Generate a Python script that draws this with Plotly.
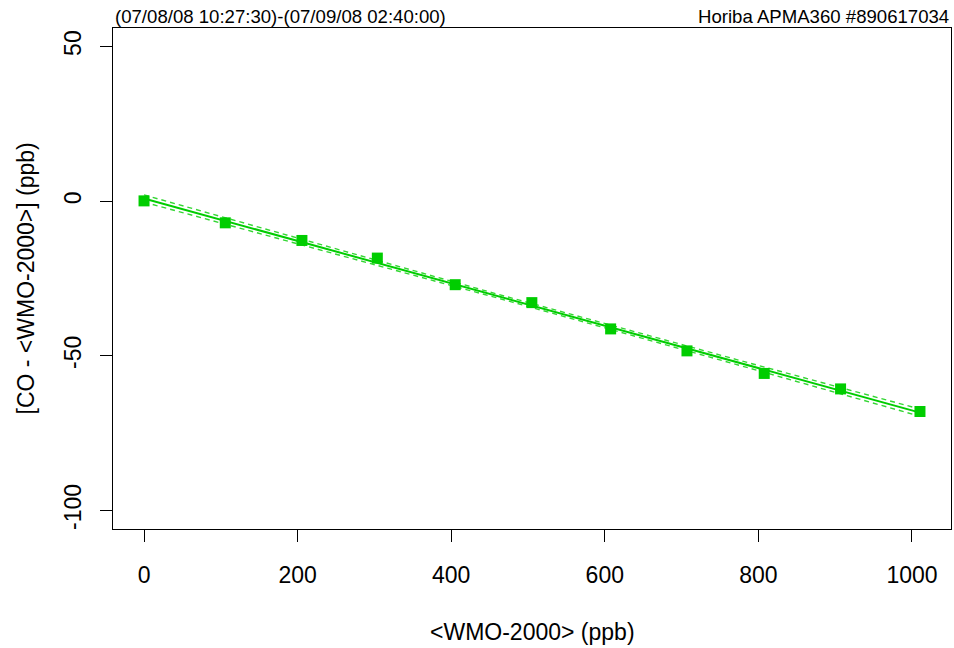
import numpy as np
import plotly.graph_objects as go

# Data
x_ref = [0, 105.8, 205.6, 303.8, 405.2, 505.0, 607.6, 707.0, 807.6, 907.0, 1010.4]
y_diff = [0.1, -7.0, -12.7, -18.4, -27.0, -32.8, -41.3, -48.4, -55.7, -60.7, -68.0]
x_ticks = [0, 200, 400, 600, 800, 1000]
y_ticks = [-100, -50, 0, 50]
title_left = "(07/08/08 10:27:30)-(07/09/08 02:40:00)"
title_right = "Horiba APMA360 #890617034"
x_title = "<WMO-2000> (ppb)"
y_title = "[CO - <WMO-2000>] (ppb)"

GREEN = "#00CD00"
BAND = "#33D633"
FONT = "Liberation Sans, Arial, Helvetica, sans-serif"

# Linear fit and 95% confidence band
xa = np.array(x_ref)
ya = np.array(y_diff)
slope, intercept = np.polyfit(xa, ya, 1)
n = len(xa)
resid = ya - (slope * xa + intercept)
s = np.sqrt(np.sum(resid ** 2) / (n - 2))
sxx = np.sum((xa - xa.mean()) ** 2)
t975 = 2.262
xf = np.linspace(xa.min(), xa.max(), 60)
yf = slope * xf + intercept
hw = t975 * s * np.sqrt(1 / n + (xf - xa.mean()) ** 2 / sxx)

fig = go.Figure()
fig.add_trace(go.Scatter(x=xf, y=yf + hw, mode="lines",
                         line=dict(color=BAND, width=1.4, dash="5px,4px"), showlegend=False))
fig.add_trace(go.Scatter(x=xf, y=yf - hw, mode="lines",
                         line=dict(color=BAND, width=1.4, dash="5px,4px"), showlegend=False))
fig.add_trace(go.Scatter(x=xf, y=yf, mode="lines",
                         line=dict(color=GREEN, width=2), showlegend=False))
fig.add_trace(go.Scatter(x=x_ref, y=y_diff, mode="markers",
                         marker=dict(symbol="square", size=11, color=GREEN), showlegend=False))

axis_common = dict(showgrid=False, zeroline=False, showline=True, mirror=True,
                   linecolor="black", linewidth=1, ticks="outside", ticklen=12,
                   tickcolor="black", tickwidth=1,
                   tickfont=dict(family=FONT, size=23, color="black"))

fig.update_xaxes(range=[-40.4, 1050.8], tickvals=x_ticks, ticktext=[str(v) for v in x_ticks],
                 ticklabelstandoff=13, **axis_common)
fig.update_yaxes(range=[-106, 56], tickvals=y_ticks, ticktext=[str(v) for v in y_ticks],
                 tickangle=-90, ticklabelstandoff=10, **axis_common)

fig.update_layout(
    width=954, height=648,
    margin=dict(l=113, r=3, t=28, b=119),
    plot_bgcolor="white", paper_bgcolor="white",
    font=dict(family=FONT, color="black"),
    annotations=[
        dict(text=title_left, xref="paper", yref="paper", x=0, y=1, xanchor="left",
             yanchor="bottom", yshift=-1, showarrow=False, font=dict(size=18.6, family=FONT)),
        dict(text=title_right, xref="paper", yref="paper", x=1, y=1, xanchor="right",
             yanchor="bottom", yshift=-1, showarrow=False, font=dict(size=18.6, family=FONT)),
        dict(text=x_title, xref="paper", yref="paper", x=0.5, y=0, xanchor="center",
             yanchor="middle", yshift=-103, showarrow=False, font=dict(size=23, family=FONT)),
        dict(text=y_title, xref="paper", yref="paper", x=0, y=0.5, xanchor="center",
             yanchor="middle", xshift=-88, textangle=-90, showarrow=False,
             font=dict(size=23, family=FONT)),
    ],
)

fig.write_html("out.html")
